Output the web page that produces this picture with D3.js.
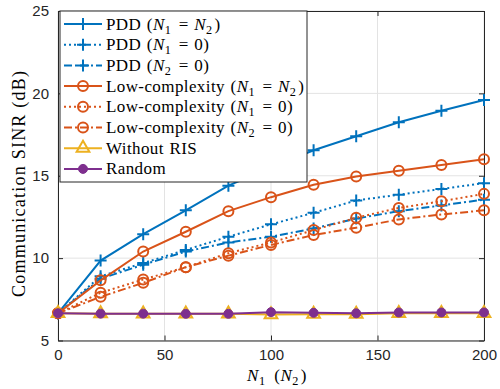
<!DOCTYPE html>
<html>
<head>
<meta charset="utf-8">
<script src="https://cdn.jsdelivr.net/npm/d3@7"></script>
<style>
  body { margin: 0; background: #fff; }
  svg { display: block; }
  .tick text { font-family: "Liberation Sans", Arial, sans-serif; font-size: 15px; fill: #262626; }
</style>
</head>
<body>
<div id="chart"></div>
<script>
// data
const nValues = [0, 20, 40, 60, 80, 100, 120, 140, 160, 180, 200]
const pddEqual = [6.65, 9.85, 11.45, 12.9, 14.4, 15.5, 16.55, 17.4, 18.25, 18.95, 19.6]
const pddN1Zero = [6.65, 8.9, 9.7, 10.5, 11.3, 12.05, 12.75, 13.5, 13.85, 14.2, 14.55]
const pddN2Zero = [6.65, 8.75, 9.6, 10.4, 10.95, 11.3, 11.8, 12.4, 12.85, 13.2, 13.55]
const lowEqual = [6.65, 8.65, 10.4, 11.6, 12.85, 13.7, 14.45, 14.95, 15.3, 15.65, 16.0]
const lowN1Zero = [6.65, 7.9, 8.7, 9.45, 10.3, 10.95, 11.7, 12.45, 13.05, 13.45, 13.9]
const lowN2Zero = [6.65, 7.65, 8.5, 9.45, 10.15, 10.8, 11.4, 11.85, 12.35, 12.65, 12.9]
const withoutRis = [6.65, 6.63, 6.62, 6.62, 6.62, 6.58, 6.6, 6.6, 6.65, 6.65, 6.65]
const randomPhase = [6.65, 6.63, 6.63, 6.62, 6.62, 6.72, 6.68, 6.65, 6.7, 6.7, 6.7]

const xTicks = [0, 50, 100, 150, 200]
const yTicks = [5, 10, 15, 20, 25]

const legendLabels = [
    "PDD (N_1 = N_2)", "PDD (N_1 = 0)", "PDD (N_2 = 0)",
    "Low-complexity (N_1 = N_2)", "Low-complexity (N_1 = 0)", "Low-complexity (N_2 = 0)",
    "Without RIS", "Random"
]

const blue = "#0072BD", orange = "#D95319", yellow = "#EDB120", purple = "#7E2F8E"

const series = [
    { values: pddEqual, color: blue, dash: null, marker: "plus" },
    { values: pddN1Zero, color: blue, dash: "2,3", marker: "plus" },
    { values: pddN2Zero, color: blue, dash: "8,3,2,3", marker: "plus" },
    { values: lowEqual, color: orange, dash: null, marker: "circle" },
    { values: lowN1Zero, color: orange, dash: "2,3", marker: "circle" },
    { values: lowN2Zero, color: orange, dash: "8,3,2,3", marker: "circle" },
    { values: withoutRis, color: yellow, dash: null, marker: "triangle" },
    { values: randomPhase, color: purple, dash: null, marker: "dot" }
]

const W = 500, H = 389
const margin = { top: 11, right: 16, bottom: 48.5, left: 58 }
const width = W - margin.left - margin.right
const height = H - margin.top - margin.bottom

const svg = d3.select("#chart").append("svg")
    .attr("width", W).attr("height", H)
const g = svg.append("g")
    .attr("transform", `translate(${margin.left},${margin.top})`)

const x = d3.scaleLinear().domain([0, 200]).range([0, width])
const y = d3.scaleLinear().domain([5, 25]).range([height, 0])

// grid
g.append("g").selectAll("line").data(xTicks).enter().append("line")
    .attr("x1", d => x(d)).attr("x2", d => x(d))
    .attr("y1", 0).attr("y2", height)
    .attr("stroke", "#e3e3e3").attr("stroke-width", 1)
g.append("g").selectAll("line").data(yTicks).enter().append("line")
    .attr("y1", d => y(d)).attr("y2", d => y(d))
    .attr("x1", 0).attr("x2", width)
    .attr("stroke", "#e3e3e3").attr("stroke-width", 1)

// axes (ticks inside, box on all sides)
const axisColor = "#262626"
function styleAxis(sel) {
    sel.select(".domain").attr("stroke", axisColor)
    sel.selectAll(".tick line").attr("stroke", axisColor)
}
g.append("g").attr("transform", `translate(0,${height})`)
    .call(d3.axisBottom(x).tickValues(xTicks).tickSizeInner(-5).tickSizeOuter(0).tickPadding(9))
    .call(styleAxis)
g.append("g")
    .call(d3.axisLeft(y).tickValues(yTicks).tickSizeInner(-5).tickSizeOuter(0).tickPadding(9))
    .call(styleAxis)
g.append("g")
    .call(d3.axisTop(x).tickValues(xTicks).tickSizeInner(-5).tickSizeOuter(0).tickFormat(""))
    .call(styleAxis)
g.append("g").attr("transform", `translate(${width},0)`)
    .call(d3.axisRight(y).tickValues(yTicks).tickSizeInner(-5).tickSizeOuter(0).tickFormat(""))
    .call(styleAxis)

// markers
function drawMarker(sel, type, color) {
    if (type === "plus") {
        sel.append("path").attr("d", "M-6,0H6M0,-6V6")
            .attr("stroke", color).attr("stroke-width", 2).attr("fill", "none")
    } else if (type === "circle") {
        sel.append("circle").attr("r", 5)
            .attr("stroke", color).attr("stroke-width", 2).attr("fill", "none")
    } else if (type === "triangle") {
        sel.append("path").attr("d", d3.symbol(d3.symbolTriangle, 70)())
            .attr("stroke", color).attr("stroke-width", 2).attr("fill", "none")
    } else {
        sel.append("circle").attr("r", 4.5).attr("fill", color)
            .attr("stroke", color).attr("stroke-width", 1)
    }
}

const line = d3.line().x(d => x(d[0])).y(d => y(d[1]))

series.forEach(s => {
    const pts = nValues.map((n, i) => [n, s.values[i]])
    const sg = g.append("g")
    sg.append("path").datum(pts)
        .attr("d", line)
        .attr("fill", "none")
        .attr("stroke", s.color)
        .attr("stroke-width", 2)
        .attr("stroke-dasharray", s.dash)
    sg.selectAll(".m").data(pts).enter().append("g")
        .attr("transform", d => `translate(${x(d[0])},${y(d[1])})`)
        .each(function () { drawMarker(d3.select(this), s.marker, s.color) })
})

// rich label: N italic, _1 subscript
const serif = "'Liberation Serif', 'DejaVu Serif', serif"
function richText(textSel, str) {
    const re = /(N)_(\d)|([^N]+)|(N)/g
    let m
    while ((m = re.exec(str)) !== null) {
        if (m[1]) {
            textSel.append("tspan").attr("font-style", "italic").text("N")
            textSel.append("tspan").attr("font-size", "0.72em").attr("dy", 4).text(m[2])
            textSel.append("tspan").attr("dy", -4).text("\u200A")
        } else if (m[3]) {
            textSel.append("tspan").text(m[3])
        } else {
            textSel.append("tspan").attr("font-style", "italic").text("N")
        }
    }
}

// legend
const lg = svg.append("g").attr("transform", "translate(60,11)")
lg.append("rect").attr("width", 247).attr("height", 171)
    .attr("fill", "#fff").attr("stroke", axisColor).attr("stroke-width", 1)
legendLabels.forEach((lab, i) => {
    const s = series[i]
    const cy = 13 + i * 20.7
    const row = lg.append("g").attr("transform", `translate(0,${cy})`)
    row.append("line").attr("x1", 4).attr("x2", 42).attr("y1", 0).attr("y2", 0)
        .attr("stroke", s.color).attr("stroke-width", 2).attr("stroke-dasharray", s.dash)
    drawMarker(row.append("g").attr("transform", "translate(23,0)"), s.marker, s.color)
    const t = row.append("text").attr("x", 46).attr("y", 5.5)
        .attr("font-family", serif).attr("font-size", 17).attr("letter-spacing", 0.4)
        .attr("word-spacing", 1).attr("fill", "#000")
    richText(t, lab)
})

// axis titles
const xt = svg.append("text").attr("x", 277).attr("y", 381)
    .attr("text-anchor", "middle").attr("font-family", serif).attr("font-size", 17)
    .attr("letter-spacing", 0.5).attr("word-spacing", 2)
richText(xt, "N_1 (N_2)")
svg.append("text")
    .attr("transform", `translate(25,184) rotate(-90)`)
    .attr("text-anchor", "middle").attr("font-family", serif).attr("font-size", 18)
    .attr("textLength", 226).attr("lengthAdjust", "spacing")
    .text("Communication SINR (dB)")
</script>
</body>
</html>
